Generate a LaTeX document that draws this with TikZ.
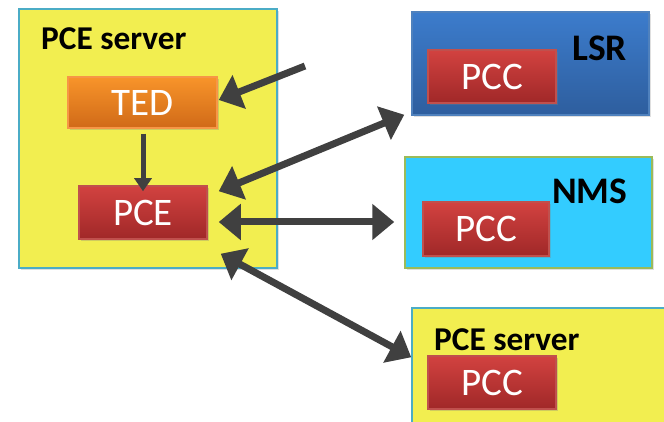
\documentclass[tikz,border=0pt]{standalone}
\usepackage{fontspec}
\setmainfont{Carlito}
\usetikzlibrary{arrows.meta,shadows,calc}
\definecolor{srvyellow}{RGB}{242,238,80}
\definecolor{srvborder}{RGB}{75,172,198}
\definecolor{lsrtop}{RGB}{60,124,204}
\definecolor{lsrbot}{RGB}{46,94,158}
\definecolor{lsrborder}{RGB}{79,129,189}
\definecolor{nmsfill}{RGB}{51,204,255}
\definecolor{nmsborder}{RGB}{155,187,89}
\definecolor{redtop}{RGB}{210,66,64}
\definecolor{redbot}{RGB}{160,40,40}
\definecolor{redborder}{RGB}{192,80,77}
\definecolor{orgtop}{RGB}{248,148,42}
\definecolor{orgbot}{RGB}{208,106,24}
\definecolor{orgborder}{RGB}{247,150,70}
\definecolor{arrgray}{RGB}{64,64,64}
\tikzset{
  container/.style={draw, line width=1.5pt, inner sep=0pt,
    drop shadow={opacity=0.25, shadow xshift=2pt, shadow yshift=-2pt}},
  srvbox/.style={container, fill=srvyellow, draw=srvborder},
  lsrbox/.style={container, top color=lsrtop, bottom color=lsrbot, draw=lsrborder},
  nmsbox/.style={container, fill=nmsfill, draw=nmsborder},
  redbox/.style={draw=redborder, line width=1.5pt, top color=redtop, bottom color=redbot,
    text=white, inner sep=0pt, font=\fontsize{39}{42}\selectfont,
    drop shadow={opacity=0.3, shadow xshift=2pt, shadow yshift=-2pt}},
  orgbox/.style={redbox, draw=orgborder, top color=orgtop, bottom color=orgbot},
  lbl/.style={font=\bfseries\fontsize{37.5}{40}\selectfont, inner sep=0pt, anchor=base west},
  srvlbl/.style={font=\bfseries\fontsize{33.3}{36}\selectfont, inner sep=0pt, anchor=base west},
  bigarr/.style={draw=arrgray, line width=7pt, -{Triangle[length=22pt,width=35pt]}},
  bigdarr/.style={draw=arrgray, line width=7pt, {Triangle[length=22pt,width=35pt]}-{Triangle[length=22pt,width=35pt]}},
  smallarr/.style={draw=arrgray, line width=5pt, -{Triangle[length=13pt,width=17pt]}},
}
\begin{document}
\begin{tikzpicture}[x=1pt,y=1pt]
\useasboundingbox (0,0) rectangle (664,422);
\clip (0,0) rectangle (664,422);
% left PCE server
\node[srvbox, minimum width=258, minimum height=259] (srv) at (148,283.5) {};
\node[srvlbl] (srvl) at (41,372) {PCE server};
\node[orgbox, minimum width=149, minimum height=51] (ted) at (142.5,319.5) {TED};
\node[redbox, minimum width=128, minimum height=53] (pce) at (143,209.5) {PCE};
% LSR
\node[lsrbox, minimum width=237, minimum height=103] (lsr) at (530.5,358.5) {};
\node[lbl] (lsrl) at (572,361) {LSR};
\node[redbox, minimum width=128, minimum height=53] (pcc1) at (492,345.5) {PCC};
% NMS
\node[nmsbox, minimum width=247, minimum height=111] (nms) at (528.5,209.5) {};
\node[lbl] (nmsl) at (552,218) {NMS};
\node[redbox, minimum width=126, minimum height=54] (pcc2) at (486,193) {PCC};
% bottom PCE server
\node[srvbox, minimum width=288, minimum height=134] (srv2) at (556,47) {};
\node[srvlbl] (srv2l) at (434,71) {PCE server};
\node[redbox, minimum width=128, minimum height=53] (pcc3) at (492,39.5) {PCC};
% arrows
\coordinate (in) at (305,356);
\draw[bigarr] (in) -- ($(ted.east)+(1,2.5)$);
\draw[smallarr] ($(ted.south)+(0.5,-5)$) -- ($(pce.north)+(0,-6)$);
\draw[bigdarr] ($(pce.north east)+(11,-6)$) -- ($(lsr.south west)+(-7,1)$);
\draw[bigdarr] ($(pce.east)+(11,-9.5)$) -- ($(nms.west)+(-10,-9.5)$);
\draw[bigdarr] ($(pce.south east)+(13,-14)$) -- ($(srv2.north west)+(0,-50)$);
\end{tikzpicture}
\end{document}
